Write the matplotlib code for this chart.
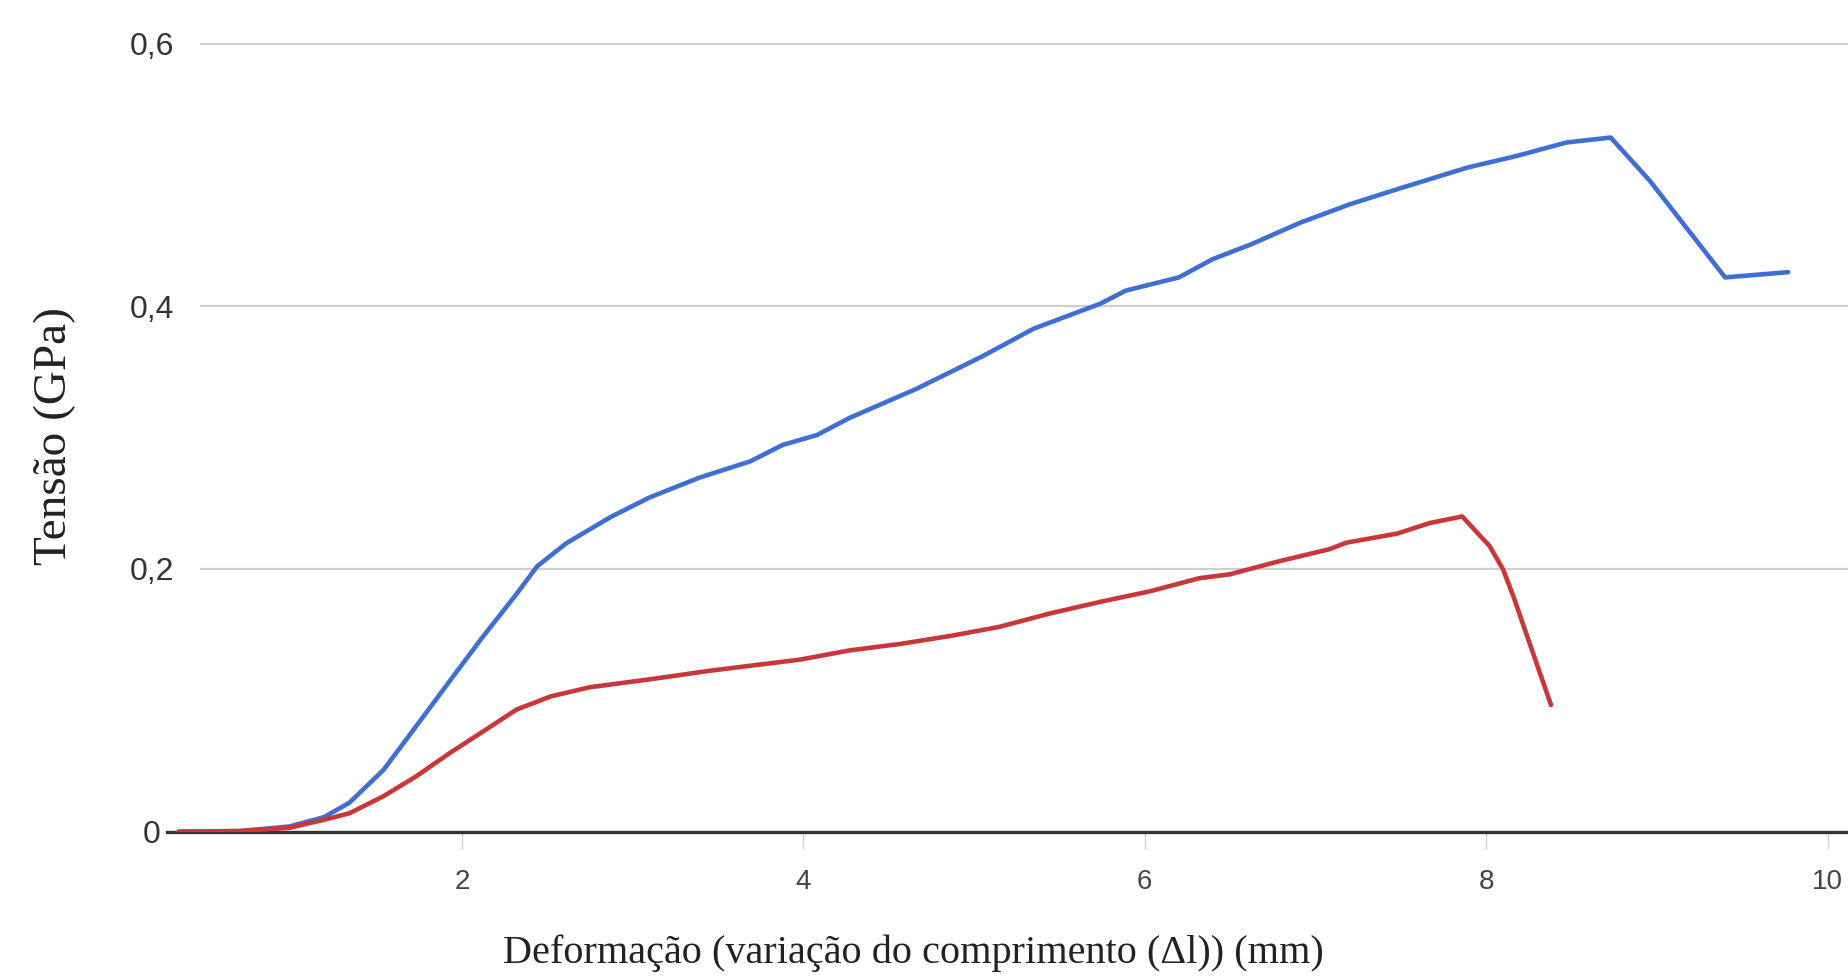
import matplotlib
matplotlib.use("Agg")
import matplotlib.pyplot as plt

# ---- data ----
blue_x = [0.34, 0.70, 0.99, 1.19, 1.34, 1.54, 1.73, 1.93, 2.12, 2.32, 2.44, 2.61, 2.87,
          3.10, 3.39, 3.69, 3.88, 4.08, 4.27, 4.66, 5.05, 5.35, 5.74, 5.89, 6.20, 6.40,
          6.62, 6.91, 7.20, 7.50, 7.89, 8.18, 8.47, 8.73, 8.96, 9.40, 9.77]
blue_y = [0.000, 0.0005, 0.004, 0.011, 0.022, 0.047, 0.080, 0.115, 0.148, 0.181, 0.202,
          0.2195, 0.2395, 0.2545, 0.2695, 0.282, 0.2945, 0.302, 0.315, 0.337, 0.362,
          0.383, 0.402, 0.412, 0.422, 0.436, 0.447, 0.4636, 0.4776, 0.490, 0.5056,
          0.5145, 0.5247, 0.5285, 0.4954, 0.422, 0.426]

red_x = [0.34, 0.70, 0.99, 1.19, 1.34, 1.54, 1.73, 1.93, 2.12, 2.32, 2.52, 2.75, 3.10,
         3.45, 3.98, 4.27, 4.57, 4.86, 5.15, 5.44, 5.74, 6.03, 6.32, 6.50, 6.79, 7.08,
         7.18, 7.48, 7.67, 7.86, 8.02, 8.10, 8.16, 8.38]
red_y = [0.000, 0.0005, 0.003, 0.009, 0.014, 0.027, 0.042, 0.060, 0.076, 0.093, 0.103,
         0.110, 0.116, 0.1225, 0.131, 0.138, 0.143, 0.149, 0.156, 0.166, 0.175, 0.183,
         0.193, 0.196, 0.206, 0.215, 0.220, 0.227, 0.235, 0.240, 0.2175, 0.1995, 0.179,
         0.0965]

x_ticks = [2, 4, 6, 8, 10]
x_tick_labels = ["2", "4", "6", "8", "10"]
y_ticks = [0, 0.2, 0.4, 0.6]
y_tick_labels = ["0", "0,2", "0,4", "0,6"]

x_label = "Deformação (variação do comprimento (\u0394l)) (mm)"
y_label = "Tensão (GPa)"

# ---- figure ----
W, H = 1848, 980
fig = plt.figure(figsize=(W / 100, H / 100), dpi=100)
fig.patch.set_facecolor("white")

left_px, right_px = 167, 1848
bottom_px, top_px = 831.7, 43.6
ax = fig.add_axes([left_px / W, 1 - bottom_px / H,
                   (right_px - left_px) / W, (bottom_px - top_px) / H])
ax.set_xlim(0.272, 10.12)
ax.set_ylim(0, 0.6)
for s in ax.spines.values():
    s.set_visible(False)

# gridlines (start a little right of the axes edge, as in the reference)
for yv in y_ticks[1:]:
    ax.axhline(yv, xmin=0.02, xmax=1, color="#cfcfcf", lw=1.6, zorder=1, clip_on=False)
ax.axhline(0, color="#333333", lw=2.4, zorder=2, clip_on=False)

ax.plot(blue_x, blue_y, color="#3f6fd4", lw=3.3, zorder=3,
        solid_joinstyle="round", solid_capstyle="round")
ax.plot(red_x, red_y, color="#c8383a", lw=3.3, zorder=4,
        solid_joinstyle="round", solid_capstyle="round")

ax.set_xticks(x_ticks)
ax.set_xticklabels(x_tick_labels, fontfamily="Liberation Sans", fontsize=20, color="#444444")
ax.tick_params(axis="x", length=12, width=1.0, color="#d0d0d0", pad=15)
ax.set_yticks(y_ticks)
ax.set_yticklabels(y_tick_labels, fontfamily="Liberation Sans", fontsize=23, color="#333333")
for lbl in ax.get_yticklabels():
    lbl.set_horizontalalignment("center")
ax.tick_params(axis="y", length=0, pad=11)

fig.text(913 / W, 1 - 953 / H, x_label, ha="center", va="center",
         fontfamily="Liberation Serif", fontsize=29, color="#222222")
fig.text(55 / W, 1 - 436 / H, y_label, ha="center", va="center", rotation=90,
         fontfamily="Liberation Serif", fontsize=34, color="#222222")

fig.savefig("out.png", dpi=100, facecolor="white")
